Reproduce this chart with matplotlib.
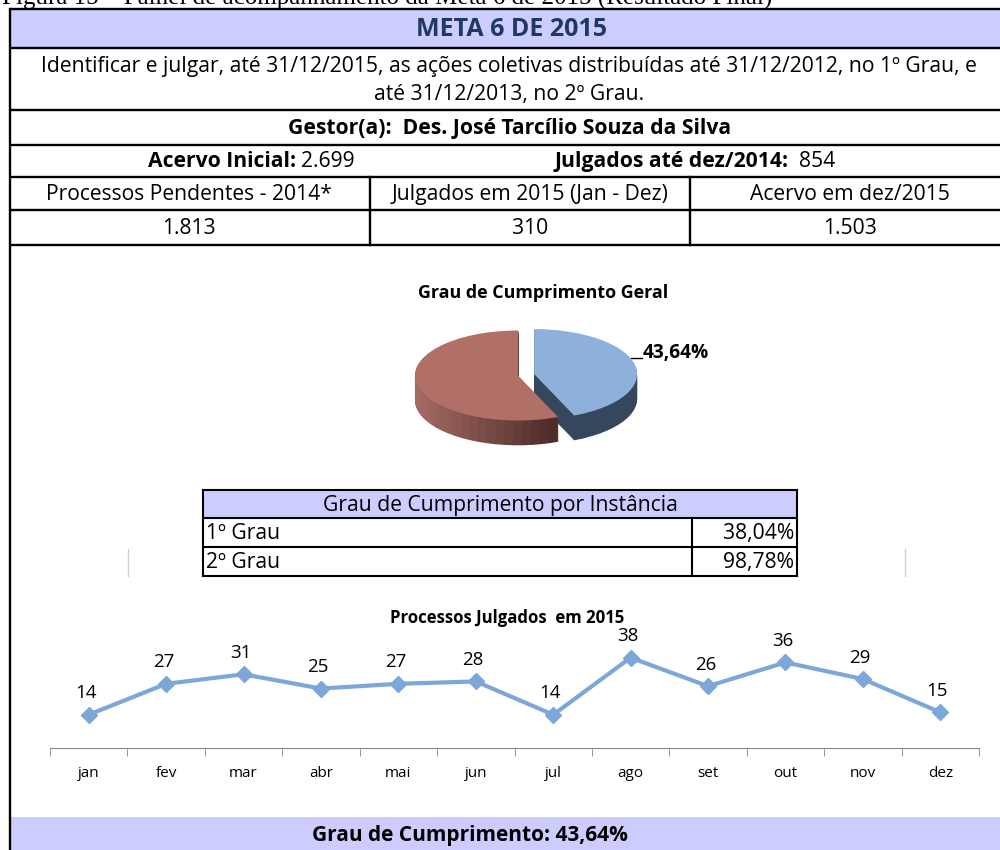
"""
Painel de acompanhamento da Meta 6 de 2015 (resultado final).
Tabela no topo, pizza 3D do grau de cumprimento e linha mensal de julgados.
"""
import matplotlib
matplotlib.use('Agg')
import matplotlib.pyplot as plt
import matplotlib.patches as patches
import numpy as np
from matplotlib.colors import to_rgb

plt.rcParams['font.family'] = ['Open Sans', 'DejaVu Sans']

W, H = 1000, 850

caption = "Figura 15 – Painel de acompanhamento da Meta 6 de 2015 (Resultado Final)"
meta_title = "META 6 DE 2015"
meta_text = ["Identificar e julgar, até 31/12/2015, as ações coletivas distribuídas até 31/12/2012, no 1º Grau, e",
             "até 31/12/2013, no 2º Grau."]
gestor = "Des. José Tarcílio Souza da Silva"
acervo_inicial = "2.699"
julgados_2014 = "854"
resumo_labels = ["Processos Pendentes - 2014*", "Julgados em 2015 (Jan - Dez)", "Acervo em dez/2015"]
resumo_values = ["1.813", "310", "1.503"]

pie_values = [43.64, 56.36]

instancias = ["1º Grau", "2º Grau"]
instancia_pct = [38.04, 98.78]

meses = ["jan", "fev", "mar", "abr", "mai", "jun", "jul", "ago", "set", "out", "nov", "dez"]
julgados = [14, 27, 31, 25, 27, 28, 14, 38, 26, 36, 29, 15]

grau_total = 43.64

LAV = '#CCCCFF'
BLUE = '#8DB1DA'
BLUE_SIDE = '#34475C'
RED = '#B07068'
RED_SIDE_LIGHT = '#A56B63'
RED_SIDE_DARK = '#4A2A27'
LINE = '#7DA7D8'
FS = 15.2


def pct(v):
    return f"{v:.2f}%".replace('.', ',')


def mix(c1, c2, t):
    a, b = np.array(to_rgb(c1)), np.array(to_rgb(c2))
    return tuple(a + (b - a) * min(max(t, 0), 1))


fig = plt.figure(figsize=(W / 100, H / 100), dpi=100)
fig.patch.set_facecolor('white')


def px_axes(left, top, right, bottom):
    return fig.add_axes([left / W, 1 - bottom / H, (right - left) / W, (bottom - top) / H])


page = fig.add_axes([0, 0, 1, 1])
page.set_xlim(0, W)
page.set_ylim(H, 0)
page.axis('off')

# legenda da figura (cortada no topo, como no original)
page.text(2, 5, caption, fontsize=18, family='Liberation Serif', ha='left', va='baseline')

# faixas lilas
page.add_patch(patches.Rectangle((10, 9), 990, 39, facecolor=LAV, edgecolor='none'))
page.add_patch(patches.Rectangle((10, 817), 990, 40, facecolor=LAV, edgecolor='none'))

# linhas da tabela
lw = 1.7
for y in [9, 48, 110, 145, 177, 210, 245]:
    page.plot([10, 1000], [y, y], color='black', lw=lw, solid_capstyle='butt')
page.plot([10, 10], [9, 850], color='black', lw=lw)
for x in [370, 690]:
    page.plot([x, x], [177, 245], color='black', lw=lw)

page.text(511, 29, meta_title, fontsize=18, fontweight='bold', color='#1F3864',
          ha='center', va='center')
page.text(509, 66, meta_text[0], fontsize=FS, ha='center', va='center')
page.text(509, 94, meta_text[1], fontsize=FS, ha='center', va='center')
page.text(510, 128, f"Gestor(a):  {gestor}", fontsize=FS, fontweight='bold',
          ha='center', va='center')
page.text(296, 161, "Acervo Inicial:", fontsize=FS, fontweight='bold', ha='right', va='center')
page.text(301, 161, acervo_inicial, fontsize=FS, ha='left', va='center')
page.text(789, 161, "Julgados até dez/2014:", fontsize=FS, fontweight='bold', ha='right', va='center')
page.text(799, 161, julgados_2014, fontsize=FS, ha='left', va='center')
for cx, lab, val in zip([189, 530, 850], resumo_labels, resumo_values):
    page.text(cx, 194, lab, fontsize=FS, ha='center', va='center')
    page.text(cx, 228, val, fontsize=FS, ha='center', va='center')

# pizza 3D: fatias em camadas, lateral da fatia vermelha em degradê
page.text(543, 293, "Grau de Cumprimento Geral", fontsize=12.9, fontweight='bold',
          ha='center', va='center')
pie_ax = px_axes(400, 310, 660, 460)
depth = 0.55
explode = [0.1, 0.06]
n_layers = 30
fracs = np.array(pie_values) / sum(pie_values)
# angulos no sentido horário a partir do topo
edges = 90 - 360 * np.concatenate([[0], np.cumsum(fracs)])
slices = []
for i in range(len(pie_values)):
    t2, t1 = edges[i], edges[i + 1]
    mid = np.deg2rad((t1 + t2) / 2)
    off = (explode[i] * np.cos(mid), explode[i] * np.sin(mid))
    slices.append((t1, t2, off))

n_sub = 40
for k in range(n_layers, 0, -1):
    dz = -depth * k / n_layers
    t1, t2, off = slices[0]
    pie_ax.add_patch(patches.Wedge((off[0], off[1] + dz), 1, t1, t2,
                                   facecolor=BLUE_SIDE, edgecolor='none'))
    t1, t2, off = slices[1]
    sub = np.linspace(t1, t2, n_sub + 1)
    for a, b in zip(sub[:-1], sub[1:]):
        c = np.cos(np.deg2rad((a + b) / 2))
        col = mix(RED_SIDE_LIGHT, RED_SIDE_DARK, (c + 1) / 1.4)
        pie_ax.add_patch(patches.Wedge((off[0], off[1] + dz), 1, a - 0.3, b + 0.3,
                                       facecolor=col, edgecolor='none'))
for (t1, t2, off), col in zip(slices, [BLUE, RED]):
    pie_ax.add_patch(patches.Wedge(off, 1, t1, t2, facecolor=col, edgecolor='none'))
pie_ax.set_xlim(-1.204, 1.320)
pie_ax.set_ylim(-1.889, 1.444)
pie_ax.axis('off')

page.plot([631, 642], [358, 358], color='black', lw=1)
page.text(643, 353, pct(pie_values[0]), fontsize=13.8, fontweight='bold', ha='left', va='center')

# tabela por instancia
tx0, tx1, tsplit = 203, 797, 692
ty = [490, 518, 547, 576]
page.add_patch(patches.Rectangle((tx0, ty[0]), tx1 - tx0, ty[1] - ty[0], facecolor=LAV, edgecolor='none'))
for y in ty:
    page.plot([tx0, tx1], [y, y], color='black', lw=1.5)
for x in [tx0, tx1]:
    page.plot([x, x], [ty[0], ty[-1]], color='black', lw=1.5)
page.plot([tsplit, tsplit], [ty[1], ty[-1]], color='black', lw=1.5)
page.text((tx0 + tx1) / 2, 505, "Grau de Cumprimento por Instância", fontsize=FS,
          ha='center', va='center')
for i, (nome, v) in enumerate(zip(instancias, instancia_pct)):
    yc = (ty[i + 1] + ty[i + 2]) / 2 + 1
    page.text(tx0 + 3, yc, nome, fontsize=FS, ha='left', va='center')
    page.text(tx1 - 3, yc, pct(v), fontsize=FS, ha='right', va='center')

# bordas cinza do grafico do Excel
for x in [128, 905]:
    page.plot([x, x], [549, 576], color='#D0D0D0', lw=1)

# linha mensal
page.text(507, 618, "Processos Julgados  em 2015", fontsize=12.1, fontweight='bold',
          ha='center', va='center')
ax = px_axes(50, 641, 979, 748)
xs = range(len(meses))
ax.plot(xs, julgados, color=LINE, lw=3, marker='D', markersize=8, clip_on=False)
for x, v in zip(xs, julgados):
    ax.annotate(str(v), (x, v), xytext=(-2, 9), textcoords='offset points',
                ha='center', va='bottom', fontsize=13.5)
ax.set_xlim(-0.5, len(meses) - 0.5)
ax.set_ylim(0, 45)
ax.set_xticks(list(xs))
ax.set_xticklabels(meses, fontsize=11)
ax.set_xticks([i - 0.5 for i in range(len(meses) + 1)], minor=True)
ax.tick_params(axis='x', which='major', length=0, pad=13)
ax.tick_params(axis='x', which='minor', length=6, color='#888888', direction='out')
ax.set_yticks([])
for s in ['top', 'left', 'right']:
    ax.spines[s].set_visible(False)
ax.spines['bottom'].set_color('#888888')
ax.patch.set_alpha(0)

page.text(470, 836, f"Grau de Cumprimento: {pct(grau_total)}", fontsize=15,
          fontweight='bold', ha='center', va='center')

fig.savefig('out.png', dpi=100, facecolor='white')
